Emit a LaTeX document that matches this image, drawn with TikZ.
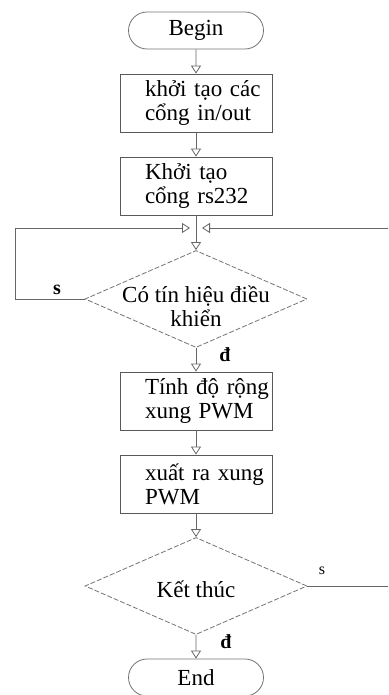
\documentclass[tikz,border=0pt]{standalone}
\usepackage{fontspec}
\setmainfont{Liberation Serif}
\usetikzlibrary{arrows.meta, shapes.geometric, shapes.misc}

\begin{document}
\begin{tikzpicture}[
    x=0.5pt, y=-0.5pt,
    font=\fontsize{11.5}{12}\selectfont,
    terminal/.style={rounded rectangle, draw=black!55, minimum width=67.5pt, minimum height=18.5pt, inner sep=0pt},
    process/.style={rectangle, draw=black!65, minimum height=29pt, text width=76pt, inner xsep=0pt, inner ysep=0pt, align=left, execute at begin node={\leftskip=12.5pt}},
    decision/.style={diamond, draw=black!55, dash pattern=on 2.5pt off 1pt, minimum width=111pt, minimum height=48.5pt, inner sep=0pt},
    flow/.style={draw=black!60, -{Triangle[open, length=4pt, width=5pt]}},
    answer/.style={font=\fontsize{10}{10}\selectfont\bfseries}
]

% ============================================
% KHUNG ẢNH
% ============================================
\useasboundingbox (0,0) rectangle (388,695);
\clip (0,0) rectangle (388,695);

% ============================================
% CÁC KHỐI CHÍNH
% ============================================
\node[terminal] at (196,30.5) (begin) {Begin};

\node[process] at (196,103) (b1) {khởi tạo các\\cổng in/out};
\node[process] at (196,186) (b2) {Khởi tạo\\cổng rs232};

% Điểm nhập vòng lặp
\coordinate (j) at (196,228);
\coordinate (cl) at (15,228);
\coordinate (cr) at (392,228);

% Khối quyết định 1
\node[decision] at (196,299) (d1) {};
\node[align=center] at (196,306) (d1txt) {Có tín hiệu điều\\khiển};

\node[process] at (196,401) (b3) {Tính độ rộng\\xung PWM};
\node[process] at (196,484) (b4) {xuất ra xung\\PWM};

% Khối quyết định 2
\node[decision] at (196,586) (d2) {};
\node at (196,589) (d2txt) {Kết thúc};

\node[terminal] at (196,677.5) (end) {End};

% ============================================
% ĐƯỜNG NỐI
% ============================================
\draw[flow] (begin) -- (b1);
\draw[flow] (b1) -- (b2);
\draw[flow] (b2) -- (d1);
\draw[flow] (d1) -- (b3);
\draw[flow] (b3) -- (b4);
\draw[flow] (b4) -- (d2);
\draw[flow] (d2) -- (end);

% Vòng lặp trái (s) và phải (s)
\draw[flow, shorten >=3pt] (d1.west) -| (cl) -- (j);
\draw[flow, shorten >=3pt] (d2.east) -| (cr) -- (j);

% Nhãn
\node[answer] at (57,290) (s1) {s};
\node[answer] at (225,355) (y1) {đ};
\node[font=\fontsize{8}{8}\selectfont] at (322,571) (s2) {s};
\node[answer] at (226,642) (y2) {đ};

\end{tikzpicture}
\end{document}
